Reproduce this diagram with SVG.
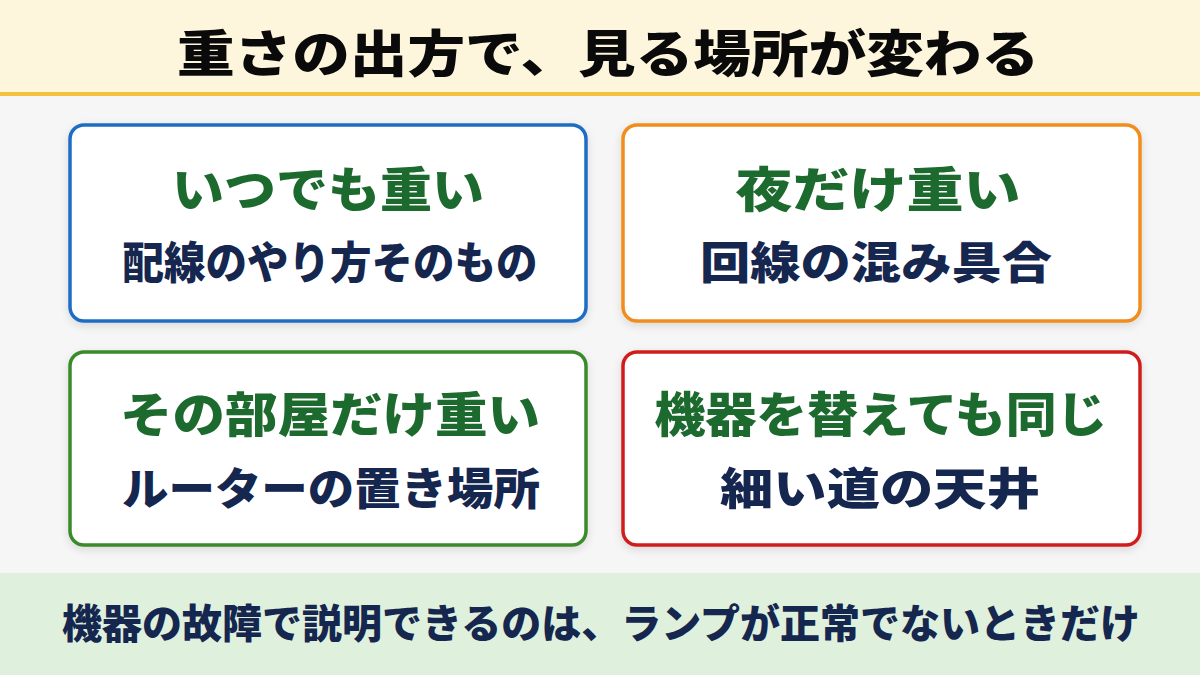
<svg xmlns="http://www.w3.org/2000/svg" width="1200" height="675" viewBox="0 0 1200 675">
<defs>
<filter id="sh" x="-10%" y="-10%" width="120%" height="130%">
<feDropShadow dx="0" dy="3" stdDeviation="4" flood-color="#000" flood-opacity="0.12"/>
</filter>
</defs>
<style>
.t{font-family:"Noto Sans CJK JP","Noto Sans",sans-serif;font-weight:900;text-anchor:middle}
.h{font-size:48px;fill:#1d6a2f}
.s{font-size:44px;fill:#15264f}
.box{fill:#ffffff;stroke-width:3.5;filter:url(#sh)}
</style>
<rect x="0" y="0" width="1200" height="675" fill="#f6f6f6"/>
<g id="header">
<rect x="0" y="0" width="1200" height="92" fill="#fdf5dc"/>
<rect x="0" y="92" width="1200" height="4" fill="#f5c13f"/>
<text class="t" x="608" y="72" font-size="50" fill="#0a0a0a" textLength="862" lengthAdjust="spacingAndGlyphs">重さの出方で、見る場所が変わる</text>
</g>
<g id="box1">
<rect class="box" x="70" y="125" width="516" height="196" rx="14" stroke="#1f6dc4"/>
<text class="t h" x="328" y="207" textLength="312" lengthAdjust="spacingAndGlyphs">いつでも重い</text>
<text class="t s" x="330" y="279" textLength="415" lengthAdjust="spacingAndGlyphs">配線のやり方そのもの</text>
</g>
<g id="box2">
<rect class="box" x="623" y="125" width="517" height="196" rx="14" stroke="#f08d1c"/>
<text class="t h" x="878" y="207" textLength="285" lengthAdjust="spacingAndGlyphs">夜だけ重い</text>
<text class="t s" x="876" y="279" textLength="352" lengthAdjust="spacingAndGlyphs">回線の混み具合</text>
</g>
<g id="box3">
<rect class="box" x="70" y="352" width="516" height="193" rx="14" stroke="#3a8a2c"/>
<text class="t h" x="330" y="432" textLength="420" lengthAdjust="spacingAndGlyphs">その部屋だけ重い</text>
<text class="t s" x="331" y="505" textLength="418" lengthAdjust="spacingAndGlyphs">ルーターの置き場所</text>
</g>
<g id="box4">
<rect class="box" x="623" y="352" width="517" height="193" rx="14" stroke="#d11f1e"/>
<text class="t h" x="881" y="432" textLength="453" lengthAdjust="spacingAndGlyphs">機器を替えても同じ</text>
<text class="t s" x="880" y="505" textLength="320" lengthAdjust="spacingAndGlyphs">細い道の天井</text>
</g>
<g id="footer">
<rect x="0" y="573" width="1200" height="102" fill="#dff1dc"/>
<text class="t" x="601" y="638" font-size="40" fill="#15264f" textLength="1078" lengthAdjust="spacingAndGlyphs">機器の故障で説明できるのは、ランプが正常でないときだけ</text>
</g>
<g id="connectors"></g>
</svg>
